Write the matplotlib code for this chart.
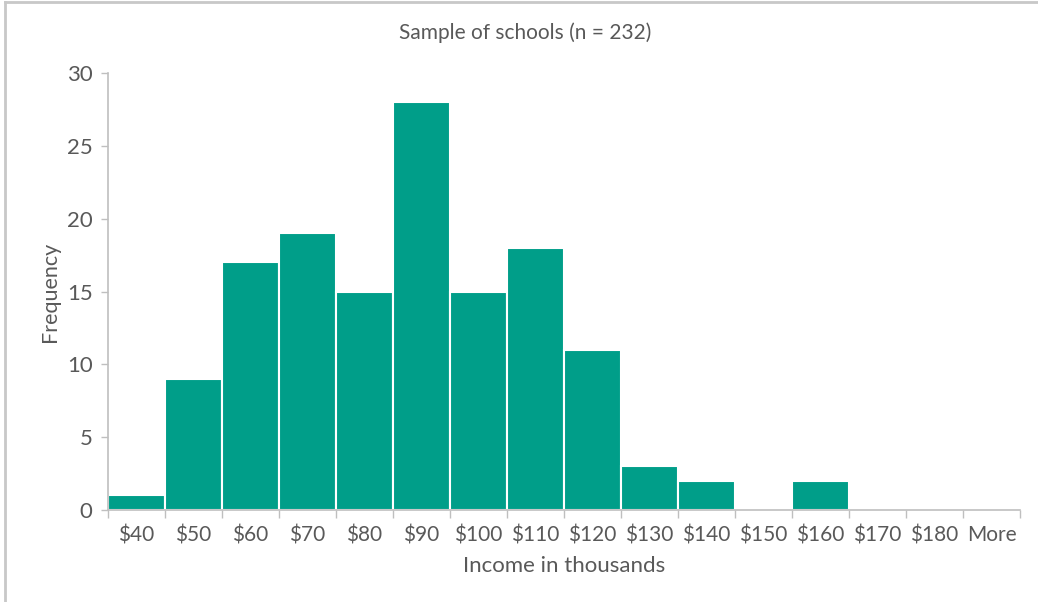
import matplotlib
matplotlib.use("Agg")
import matplotlib.pyplot as plt

bins = ["$40", "$50", "$60", "$70", "$80", "$90", "$100", "$110", "$120",
        "$130", "$140", "$150", "$160", "$170", "$180", "More"]
freq = [1, 9, 17, 19, 15, 28, 15, 18, 11, 3, 2, 0, 2, 0, 0, 0]
yticks = [0, 5, 10, 15, 20, 25, 30]

plt.rcParams['font.family'] = ['Lato', 'DejaVu Sans']
txt = '#595959'
spine = '#BFBFBF'

fig = plt.figure(figsize=(10.38, 6.02), dpi=100)
ax = fig.add_axes([0.104, 0.1528, 0.8787, 0.7259])

x = list(range(len(bins)))
ax.bar(x, freq, width=1.0, color='#009E89', edgecolor='white', linewidth=1.5)
ax.set_xlim(-0.5, len(bins) - 0.5)
ax.set_ylim(0, 30)
ax.set_yticks(yticks)
ax.set_yticklabels([str(v) for v in yticks], fontsize=16, color=txt)
ax.set_xticks(x)
ax.set_xticklabels(bins, fontsize=15, color=txt)
ax.set_xticks([i - 0.5 for i in range(len(bins) + 1)], minor=True)
ax.tick_params(axis='x', which='major', length=0, pad=11)
ax.tick_params(axis='x', which='minor', length=6, color=spine, width=1)
ax.tick_params(axis='y', length=5, color=spine, width=1, pad=6)

for s in ['top', 'right']:
    ax.spines[s].set_visible(False)
for s in ['left', 'bottom']:
    ax.spines[s].set_color(spine)
    ax.spines[s].set_linewidth(1.2)

ax.set_xlabel('Income in thousands', fontsize=16, color=txt, labelpad=8)
ax.set_ylabel('Frequency', fontsize=15.5, color=txt, labelpad=5)
fig.text(0.506, 0.945, 'Sample of schools (n = 232)', ha='center', va='center',
         fontsize=15, color=txt)

# outer frame (left and top)
fig.add_artist(plt.Line2D([0.005, 0.005], [0.0, 0.997], transform=fig.transFigure,
                          color='#C8C8C8', linewidth=2))
fig.add_artist(plt.Line2D([0.005, 1.0], [0.997, 0.997], transform=fig.transFigure,
                          color='#C8C8C8', linewidth=2))

fig.savefig('out.png', dpi=100)
